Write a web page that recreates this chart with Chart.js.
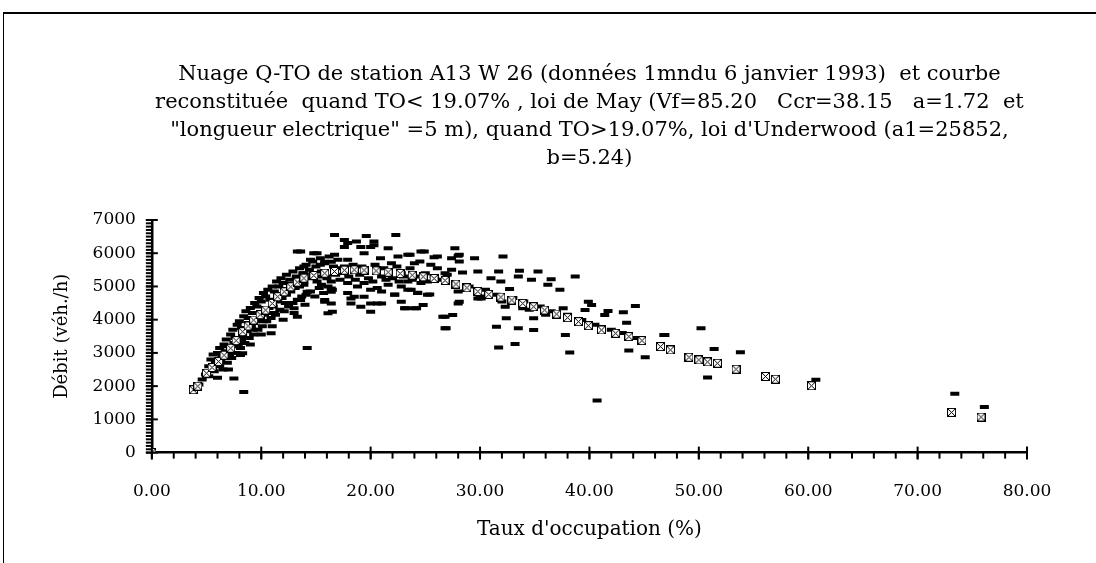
<!DOCTYPE html>
<html><head><meta charset="utf-8">
<script src="https://cdn.jsdelivr.net/npm/chart.js@4/dist/chart.umd.min.js"></script>
<style>
html,body{margin:0;padding:0;background:#fff;}
#wrap{position:relative;width:1096px;height:563px;overflow:hidden;}
#frame{position:absolute;left:3px;top:12px;width:1100px;height:560px;border-top:2px solid #000;border-left:1.5px solid #000;pointer-events:none;}
</style></head><body>
<div id="wrap"><canvas id="c" width="1096" height="563" style="width:1096px;height:563px"></canvas><div id="frame"></div></div>
<script>
// ---- texts ----
const titleLines = [
  "Nuage Q-TO de station A13 W 26 (données 1mndu 6 janvier 1993)  et courbe",
  "reconstituée  quand TO< 19.07% , loi de May (Vf=85.20   Ccr=38.15   a=1.72  et",
  "\"longueur electrique\" =5 m), quand TO>19.07%, loi d'Underwood (a1=25852,",
  "b=5.24)"
];
const xTitle = "Taux d'occupation (%)";
const yTitle = "Débit (véh./h)";

// ---- tick labels ----
const xTicks = [0, 10, 20, 30, 40, 50, 60, 70, 80];
const yTicks = [0, 1000, 2000, 3000, 4000, 5000, 6000, 7000];

// ---- reconstructed curve (TO %, Q veh/h) ----
const curvePoints = [
  [0,0],[3.8,1890],[4.2,2000],[5.0,2390],[5.5,2560],[6.1,2740],[6.6,2930],[7.2,3140],
  [7.7,3370],[8.3,3640],[8.8,3810],[9.3,3990],[9.9,4150],[10.4,4290],[11.0,4490],
  [11.5,4690],[12.1,4840],[12.7,4990],[13.3,5130],[13.9,5250],[14.8,5330],[15.8,5400],
  [16.7,5450],[17.6,5490],[18.5,5500],[19.4,5490],[20.5,5470],[21.6,5430],[22.7,5390],
  [23.8,5340],[24.8,5290],[25.8,5240],[26.8,5180],[27.8,5070],[28.8,4960],[29.8,4850],
  [30.8,4760],[31.9,4680],[32.9,4590],[33.9,4490],[34.9,4390],[35.9,4290],[37.0,4170],
  [38.0,4060],[39.0,3940],[39.9,3820],[41.1,3690],[42.4,3590],[43.6,3490],[44.8,3370],
  [46.5,3190],[47.4,3090],[49.1,2870],[50.0,2790],[50.8,2730],[51.7,2690],[53.4,2510],
  [56.1,2290],[57.0,2210],[60.3,2010],[73.1,1210],[75.8,1070]
];

// ---- observed cloud (TO %, Q veh/h) ----
const obsLeftUpper = [
  [4.0,1950],[4.3,2050],[4.6,2200],[4.9,2350],[5.2,2600],[5.4,2800],[5.6,2950],[5.8,2700],
  [6.0,3000],[6.2,3150],[6.4,2900],[6.6,3250],[6.8,3400],[7.0,3200],[7.2,3550],[7.4,3700],
  [7.6,3450],[7.8,3850],[8.0,3950],[8.2,3750],[8.4,4100],[8.6,4250],[8.8,4050],[9.0,4350],
  [9.2,4200],[9.4,4500],[9.6,4400],[9.8,4650],[10.0,4550],[10.2,4800],[10.4,4700],[10.6,4900],
  [10.8,4600],[11.0,5000],[11.2,4850],[11.4,5150],[11.6,5000],[11.8,5250],[12.0,5100],
  [12.3,5350],[12.6,5200],[12.9,5450],[13.2,5300],[13.5,5550],[13.8,5400],[14.1,5650],
  [14.4,5500],[14.7,5750],[15.0,5600],[15.4,5850],[15.8,5700],[16.2,5900],[16.6,5600],[17.0,5800]
];
const obsLeftBand = [
  [6.3,2800],[6.7,3050],[7.1,2950],[7.5,3300],[7.9,3200],[8.3,3500],[8.7,3650],[9.1,3800],
  [9.5,3950],[9.9,4050],[10.3,4150],[10.7,4350],[11.1,4400],[11.5,4550],[11.9,4650],
  [12.3,4750],[12.7,4850],[13.1,4950],[13.5,5000],[13.9,5150],[14.3,5250],[14.7,5350],
  [15.1,5150],[15.5,5050],[15.9,5300],[12.2,4500],[11.2,4200],[10.2,3950],[9.2,3700],[8.2,3400]
];
const obsLeftLower = [
  [5.2,2300],[5.7,2450],[6.2,2600],[6.5,2500],[6.9,2700],[7.3,2850],[7.7,3000],[8.1,3150],
  [8.5,3300],[8.9,3450],[9.3,3550],[9.7,3700],[10.1,3800],[10.5,3950],[10.9,4050],[11.3,4150],
  [11.7,4300],[12.1,4250],[12.5,4400],[12.9,4500],[13.3,4600],[13.7,4700],[14.1,4750],
  [14.5,4850],[14.9,4700],[15.3,4950],[15.7,4800],[16.1,5000],[16.5,4900],[6.0,2250],
  [7.0,2500],[9.0,3250],[10.0,3550],[11.0,3800],[12.0,4000],[13.0,4200],[14.0,4450]
];
const obsLeftIsolated = [
  [8.4,1820],[7.5,2230],[8.1,2940],[8.3,2990],[10.9,3590],[13.0,4340],[13.3,4090],[14.2,3150],
  [15.8,4540],[16.5,4240],[16.4,4940],[16.4,4490],[18.2,4640],[18.5,4690],[19.1,4390],
  [20.0,4490],[15.8,5740],[17.9,6310],[19.1,6190],[20.3,6240],[13.3,6050],[14.8,6000]
];
const obsPeak = [
  [16.7,6550],[17.6,6400],[18.7,6350],[19.6,6520],[20.3,6350],[22.3,6550],[17.6,6190],
  [20.0,6190],[21.6,6150],[15.1,6000],[16.7,5950],[19.4,6000],[23.4,5950],[24.9,6050],
  [13.6,6050],[14.5,5800],[16.4,5740],[17.9,5800],[20.9,5850],[22.5,5900],[26.1,5900],
  [27.4,5850],[13.9,5600],[15.4,5650],[17.6,5600],[21.9,5700],[24.0,5700],[25.5,5650],
  [13.9,5400],[15.1,5300],[22.8,5400],[24.3,5300],[26.8,5400],[16.4,5150],[17.9,5100],
  [19.4,5100],[20.6,4950],[21.6,5050],[23.4,5150],[25.2,5150],[13.9,5050],[14.2,4840],
  [16.4,4840],[17.9,4800],[19.4,4690],[20.6,4490],[22.2,4750],[23.4,4900],[24.3,4800],
  [25.2,4750],[15.8,4590],[16.1,4190],[18.2,4490],[20.0,4240],[23.1,4340],[24.0,4340],
  [26.8,4090],[27.5,4140],[26.8,3740],[13.6,4590],
  [15.5,5450],[16.0,5250],[16.8,5350],[17.2,5200],[18.0,5300],[18.6,5200],[19.0,5350],
  [19.8,5250],[20.2,5150],[21.0,5300],[21.4,5200],[22.0,5250],[22.6,5150],[23.0,5300],
  [23.8,5200],[24.6,5100],[25.0,5400],[25.8,5300],[26.4,5200],[27.0,5350],[17.0,5550],
  [18.4,5650],[19.2,5600],[20.4,5650],[21.2,5550],[22.4,5600],[23.6,5550],[18.8,5000],
  [20.0,4900],[21.0,4850],[22.8,5000]
];
const obsMiddle = [
  [27.7,6150],[28.1,5950],[28.1,5750],[29.5,5850],[32.1,5900],[27.4,5500],[28.4,5420],
  [29.8,5450],[31.7,5450],[33.6,5470],[35.3,5450],[31.0,5250],[31.9,5150],[33.5,5300],
  [34.7,5200],[36.2,5050],[37.3,4900],[38.7,5300],[39.9,4540],[39.6,4290],[28.1,4540],
  [26.6,4090],[30.1,4640],[32.4,4040],[31.5,3790],[33.5,3740],[34.9,3690],[31.7,3160],
  [33.2,3270],[37.8,3540],[38.2,3010],[33.9,4340],[37.6,4340],[24.6,6050],[25.8,5880],
  [28.0,5920],[23.6,5950],[24.5,5750],[26.1,5550],[36.5,5220],[32.7,4920],[23.7,4900],
  [24.3,4810],[25.4,4760],[22.2,4760],[22.8,4540],[21.0,4490],[23.2,4340],[24.2,4340],
  [24.8,4440],[28.0,4490],[29.8,4640],[32.3,4390],[34.9,4040],[39.3,3990],[41.4,4140],
  [26.9,3740],[40.7,1570],[43.6,3070],[45.1,2870],[46.8,3540],
  [29.0,5000],[30.5,4900],[31.5,4750],[33.0,4650],[34.0,4550],[35.5,4400],[36.5,4250],
  [38.0,4150],[39.0,4000],[40.5,3850],[42.0,3700],[43.0,3600],[44.0,3450],[28.0,4850],
  [30.0,4700],[32.0,4550],[34.5,4300],[36.0,4150]
];
const obsRight = [
  [40.2,4440],[41.7,4260],[43.1,4220],[44.2,4410],[43.4,3910],[46.9,3540],[50.2,3740],
  [51.4,3120],[53.8,3020],[50.8,2260],[60.7,2190],[73.4,1770],[76.1,1370]
];

const toXY = arr => arr.map(p => ({x: p[0], y: p[1]}));
const observed = [].concat(obsLeftUpper, obsLeftBand, obsLeftLower, obsLeftIsolated, obsPeak, obsMiddle, obsRight);

// marker image for the reconstructed curve
function makeMarker(){
  const c = document.createElement('canvas'); c.width = 9; c.height = 9;
  const g = c.getContext('2d');
  g.fillStyle = '#000'; g.fillRect(0,0,9,9);
  g.fillStyle = '#fff'; g.fillRect(1,1,7,7);
  g.fillStyle = '#000';
  for (let i = 1; i < 8; i++){ g.fillRect(i,i,1,1); g.fillRect(8-i,i,1,1); }
  return c;
}

const serif = "'DejaVu Serif', 'Liberation Serif', serif";

const axisTicks = {
  id: 'axisTicks',
  afterDraw(chart){
    const ctx = chart.ctx, xs = chart.scales.x, ys = chart.scales.y;
    const y0 = ys.getPixelForValue(0), x0 = xs.getPixelForValue(0);
    ctx.save();
    ctx.strokeStyle = '#000';
    ctx.lineWidth = 2;
    for (let v = 0; v <= 80; v += 2){
      const px = xs.getPixelForValue(v);
      ctx.beginPath(); ctx.moveTo(px, y0); ctx.lineTo(px, y0 + 6); ctx.stroke();
    }
    xTicks.forEach(v => {
      const px = xs.getPixelForValue(v);
      ctx.beginPath(); ctx.moveTo(px, y0 - 6); ctx.lineTo(px, y0 + 7); ctx.stroke();
    });
    for (let v = 0; v <= 7000; v += 100){
      const py = ys.getPixelForValue(v);
      ctx.beginPath(); ctx.moveTo(x0 - 6, py); ctx.lineTo(x0, py); ctx.stroke();
    }
    yTicks.forEach(v => {
      const py = ys.getPixelForValue(v);
      ctx.beginPath(); ctx.moveTo(x0 - 6, py); ctx.lineTo(x0 + 6, py); ctx.stroke();
    });
    ctx.restore();
  }
};

new Chart(document.getElementById('c'), {
  type: 'scatter',
  data: {
    datasets: [
      {
        label: 'courbe reconstituée',
        data: toXY(curvePoints),
        pointStyle: makeMarker(),
        pointRadius: 5,
        showLine: false
      },
      {
        label: 'observations',
        data: toXY(observed),
        pointStyle: 'line',
        pointRadius: 4.5,
        borderColor: '#000',
        backgroundColor: '#000',
        pointBorderWidth: 4,
        showLine: false
      }
    ]
  },
  options: {
    responsive: false,
    animation: false,
    devicePixelRatio: 1,
    layout: { padding: { left: 0, right: 69, top: 0, bottom: 21 } },
    plugins: {
      legend: { display: false },
      tooltip: { enabled: false },
      title: {
        display: true,
        fullSize: false,
        text: titleLines,
        color: '#000',
        font: { family: serif, size: 21, weight: 'normal', lineHeight: 1.333 },
        padding: { top: 61, bottom: 47 }
      }
    },
    scales: {
      x: {
        type: 'linear', min: 0, max: 80,
        afterBuildTicks: s => { s.ticks = xTicks.map(v => ({value: v})); },
        border: { display: true, color: '#000', width: 2.5 },
        grid: { display: true, drawOnChartArea: false, drawTicks: false },
        ticks: { color: '#000', padding: 29, maxRotation: 0, font: { family: serif, size: 17 },
                 callback: v => Number(v).toFixed(2) },
        title: { display: true, text: xTitle, color: '#000', padding: { top: -13, bottom: 0 },
                 font: { family: serif, size: 20 } }
      },
      y: {
        type: 'linear', min: 0, max: 7000,
        afterBuildTicks: s => { s.ticks = yTicks.map(v => ({value: v})); },
        border: { display: true, color: '#000', width: 2.5 },
        grid: { display: true, drawOnChartArea: false, drawTicks: false },
        ticks: { color: '#000', padding: 16, font: { family: serif, size: 17 },
                 callback: v => String(v) },
        title: { display: true, text: yTitle, color: '#000', padding: { top: 52, bottom: 3 },
                 font: { family: serif, size: 18 } }
      }
    }
  },
  plugins: [axisTicks]
});
</script>
</body></html>
